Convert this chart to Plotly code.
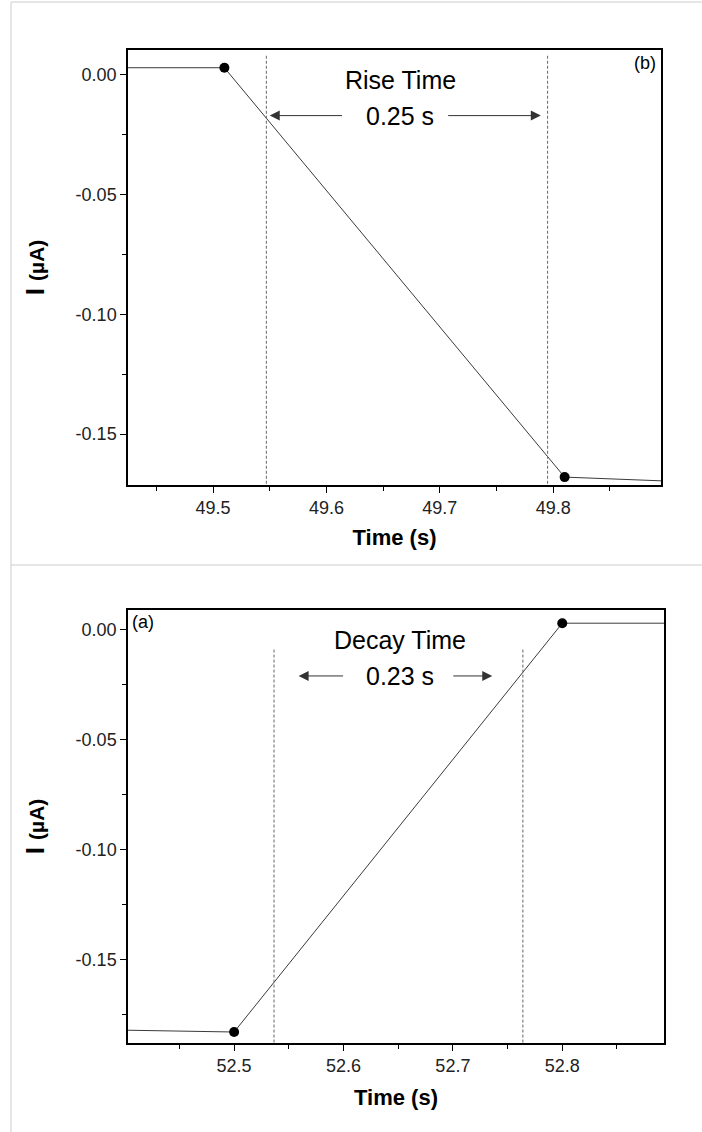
import plotly.graph_objects as go

W, H = 702, 1132

# ---- data ----
rise_t = [49.21, 49.51, 49.81, 50.11]
rise_i = [0.003, 0.003, -0.168, -0.1735]
rise_marker_t = [49.51, 49.81]
rise_marker_i = [0.003, -0.168]
rise_marks = [49.547, 49.795]
rise_xrange = [49.425, 49.895]
rise_yrange = [-0.1713, 0.0104]
rise_xticks = [49.5, 49.6, 49.7, 49.8]

decay_t = [52.2, 52.5, 52.8, 53.1]
decay_i = [-0.1805, -0.183, 0.003, 0.003]
decay_marker_t = [52.5, 52.8]
decay_marker_i = [-0.183, 0.003]
decay_marks = [52.5365, 52.764]
decay_xrange = [52.403, 52.893]
decay_yrange = [-0.188, 0.009]
decay_xticks = [52.5, 52.6, 52.7, 52.8]

yticks = [0.0, -0.05, -0.10, -0.15]
ytick_labels = ["0.00", "-0.05", "-0.10", "-0.15"]

FONT = "Liberation Sans, Arial, sans-serif"
LINE = "#3a3a3a"

fig = go.Figure()

def add_panel(t, i, mt, mi, marks, yr, xa, ya):
    fig.add_trace(go.Scatter(x=t, y=i, mode="lines", line=dict(color=LINE, width=1),
                             xaxis=xa, yaxis=ya, showlegend=False, hoverinfo="skip"))
    fig.add_trace(go.Scatter(x=mt, y=mi, mode="markers", marker=dict(color="black", size=10),
                             xaxis=xa, yaxis=ya, showlegend=False, cliponaxis=False))
    for m in marks:
        fig.add_trace(go.Scatter(x=[m, m], y=yr, mode="lines",
                                 line=dict(color="#666666", width=1, dash="3px,2px"),
                                 xaxis=xa, yaxis=ya, showlegend=False, hoverinfo="skip"))

add_panel(rise_t, rise_i, rise_marker_t, rise_marker_i, rise_marks, [0.008, rise_yrange[0]], "x", "y")
add_panel(decay_t, decay_i, decay_marker_t, decay_marker_i, decay_marks, [-0.009, decay_yrange[0]], "x2", "y2")

axis_common = dict(showline=True, linecolor="black", linewidth=1.5, mirror=True,
                   ticks="outside", ticklen=6, tickwidth=1, tickcolor="black",
                   showgrid=False, zeroline=False,
                   tickfont=dict(family=FONT, size=18, color="#222"),
                   minor=dict(ticks="outside", ticklen=4, tickwidth=1, tickcolor="black"))

title_font = dict(family=FONT, size=22, color="black")
ytitle_font = dict(family=FONT, size=26, color="black")
ytitle = "<b>I <span style='font-size:21px'>(µA)</span></b>"

fig.update_layout(
    width=W, height=H, margin=dict(l=0, r=0, t=0, b=0),
    paper_bgcolor="white", plot_bgcolor="white",
    xaxis=dict(domain=[128 / W, 661 / W], range=rise_xrange, anchor="y",
               tickvals=rise_xticks, ticktext=[f"{v:.1f}" for v in rise_xticks],
               minor_dtick=0.05, minor_tick0=49.45,
               title=dict(text="<b>Time (s)</b>", font=title_font, standoff=12),
               **axis_common),
    yaxis=dict(domain=[1 - 485 / H, 1 - 50 / H], range=rise_yrange, anchor="x",
               tickvals=yticks, ticktext=ytick_labels,
               minor_dtick=0.025, minor_tick0=0.025,
               title=dict(text=ytitle, font=ytitle_font, standoff=24),
               **axis_common),
    xaxis2=dict(domain=[128 / W, 664 / W], range=decay_xrange, anchor="y2",
                tickvals=decay_xticks, ticktext=[f"{v:.1f}" for v in decay_xticks],
                minor_dtick=0.05, minor_tick0=52.45,
                title=dict(text="<b>Time (s)</b>", font=title_font, standoff=14),
                **axis_common),
    yaxis2=dict(domain=[1 - 1043 / H, 1 - 610 / H], range=decay_yrange, anchor="x2",
                tickvals=yticks, ticktext=ytick_labels,
                minor_dtick=0.025, minor_tick0=0.025,
                title=dict(text=ytitle, font=ytitle_font, standoff=24),
                **axis_common),
)

ann_font = dict(family=FONT, size=25, color="black")
arrow = dict(text="", showarrow=True, arrowhead=2, arrowsize=2, arrowwidth=1, arrowcolor="#333")
annots = [
    dict(x=49.665, y=-0.002, xref="x", yref="y", text="Rise Time", showarrow=False, font=ann_font),
    dict(x=49.665, y=-0.017, xref="x", yref="y", text="0.25 s", showarrow=False, font=ann_font),
    dict(x=49.550, y=-0.017, ax=49.615, ay=-0.017, xref="x", yref="y", axref="x", ayref="y", **arrow),
    dict(x=49.789, y=-0.017, ax=49.706, ay=-0.017, xref="x", yref="y", axref="x", ayref="y", **arrow),
    dict(x=1, y=1, xref="x domain", yref="y domain", text="(b)", showarrow=False,
         xanchor="right", yanchor="top", xshift=-3, yshift=-1, font=dict(family=FONT, size=18, color="black")),
    dict(x=52.652, y=-0.0047, xref="x2", yref="y2", text="Decay Time", showarrow=False, font=ann_font),
    dict(x=52.652, y=-0.021, xref="x2", yref="y2", text="0.23 s", showarrow=False, font=ann_font),
    dict(x=52.559, y=-0.021, ax=52.601, ay=-0.021, xref="x2", yref="y2", axref="x2", ayref="y2", **arrow),
    dict(x=52.736, y=-0.021, ax=52.699, ay=-0.021, xref="x2", yref="y2", axref="x2", ayref="y2", **arrow),
    dict(x=0, y=1, xref="x2 domain", yref="y2 domain", text="(a)", showarrow=False,
         xanchor="left", yanchor="top", xshift=2, yshift=0, font=dict(family=FONT, size=18, color="black")),
]
fig.update_layout(annotations=annots)

# light gray separators of the composed figure
shapes = [
    dict(type="line", xref="paper", yref="paper", x0=11 / W, x1=1, y0=1 - 2 / H, y1=1 - 2 / H,
         line=dict(color="#cccccc", width=1)),
    dict(type="line", xref="paper", yref="paper", x0=11 / W, x1=11 / W, y0=0, y1=1 - 2 / H,
         line=dict(color="#cccccc", width=1)),
    dict(type="line", xref="paper", yref="paper", x0=11 / W, x1=1, y0=1 - 565 / H, y1=1 - 565 / H,
         line=dict(color="#cccccc", width=1)),
]
fig.update_layout(shapes=shapes)

fig.write_html("out.html", config={"displayModeBar": False},
               post_script="document.body.style.margin='0';")
